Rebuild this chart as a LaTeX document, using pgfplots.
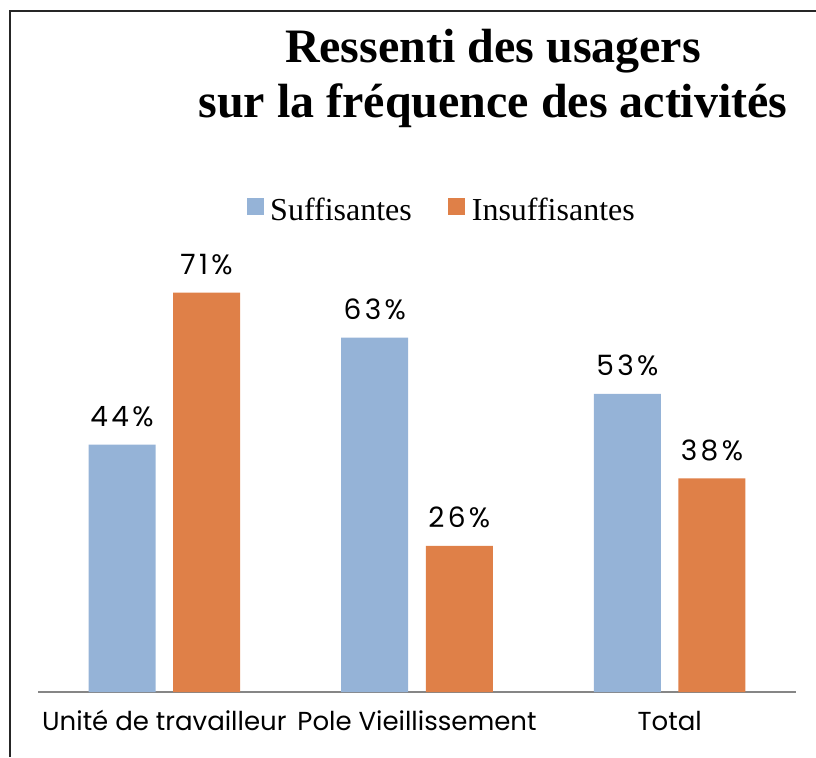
\documentclass[border=0pt]{standalone}
\usepackage{fontspec}
\setmainfont{Liberation Serif}
\newfontfamily\gothic{Poppins}
\newfontfamily\gothicwide[LetterSpace=12]{Poppins}
\usepackage{pgfplots}
\pgfplotsset{compat=1.18}

\definecolor{suff}{HTML}{95B3D7}
\definecolor{insuff}{HTML}{DF8048}
\definecolor{axisgray}{HTML}{868686}

\begin{document}
\begin{tikzpicture}[x=0.75pt,y=0.75pt]
  \useasboundingbox (0,0) rectangle (816,757);
  % frame (cut off at right and bottom)
  \draw[line width=1.5pt,black!85] (10,0) -- (10,746) -- (816,746);

  % title
  \node[anchor=base,inner sep=0] at (493,694) {\fontsize{36}{40}\selectfont\bfseries Ressenti des usagers};
  \node[anchor=base,inner sep=0] at (493,639) {\fontsize{36}{40}\selectfont\bfseries sur la fréquence des activités};

  \begin{axis}[
    at={(28.5pt,48.75pt)}, anchor=south west,
    scale only axis,
    width=568.5pt, height=337.5pt,
    xmin=-0.5, xmax=2.5,
    ymin=0, ymax=80,
    axis x line*=bottom,
    axis y line=none,
    x axis line style={axisgray, line width=1.5pt},
    xtick={0,1,2},
    xticklabels={Unité de travailleur, Pole Vieillissement, Total},
    major tick length=0pt,
    xticklabel style={font=\gothic\fontsize{19.5}{22}\selectfont, anchor=base, yshift=-28.5pt, inner sep=0},
    ybar,
    bar width=50.25pt,
    clip=false,
    /pgf/number format/assume math mode=true,
    nodes near coords={\pgfmathprintnumber{\pgfplotspointmeta}\%},
    nodes near coords style={font=\gothicwide\fontsize{21}{24}\selectfont, anchor=base, inner sep=0, yshift=13.5pt},
    legend columns=2,
    legend style={at={(0.533,1.071)}, anchor=center, draw=none, fill=none,
      font=\fontsize{24}{28}\selectfont, inner sep=0pt,
      /tikz/every odd column/.append style={column sep=3pt},
      /tikz/every even column/.append style={column sep=25.25pt}},
    legend image code/.code={\fill[#1] (0pt,-3.75pt) rectangle (12.75pt,9pt);},
  ]
    \addplot[fill=suff, draw=none, bar shift=-31.7pt] coordinates {(0,44) (1,63) (2,53)};
    \addplot[fill=insuff, draw=none, bar shift=31.7pt] coordinates {(0,71) (1,26) (2,38)};
    \legend{Suffisantes, Insuffisantes}
  \end{axis}
\end{tikzpicture}
\end{document}
